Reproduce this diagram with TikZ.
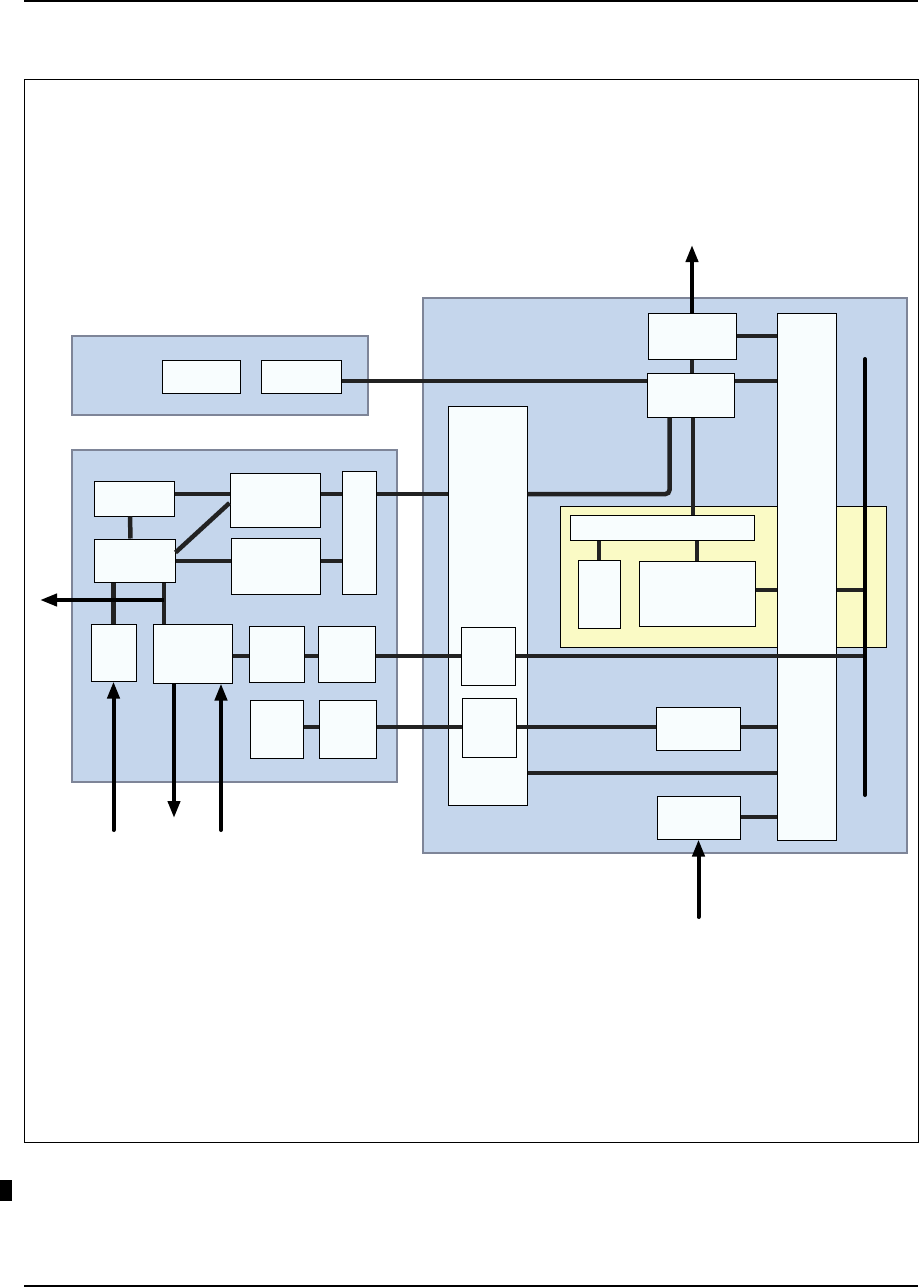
\documentclass[tikz,border=0pt]{standalone}
\usepackage{tikz}
\usetikzlibrary{arrows.meta, positioning}
\definecolor{panelblue}{HTML}{C5D6EC}
\definecolor{panelgray}{HTML}{7E8598}
\definecolor{paneyellow}{HTML}{FAFAC5}
\definecolor{boxwhite}{HTML}{F8FDFE}
\definecolor{linkgray}{HTML}{222222}

\begin{document}
\begin{tikzpicture}[
    x=1pt, y=-1pt,
    boxsize/.style 2 args={minimum width=#1pt, minimum height=#2pt},
    panel/.style={rectangle, draw=panelgray, fill=panelblue, line width=2.5pt, inner sep=0pt},
    subpanel/.style={rectangle, draw=black, fill=paneyellow, line width=0.8pt, inner sep=0pt},
    block/.style={rectangle, draw=black, fill=boxwhite, line width=1pt, inner sep=0pt},
    link/.style={line width=4.5pt, linkgray},
    arrow/.style={-{Triangle[length=17pt,width=12pt]}, line width=4pt, black},
]
    \useasboundingbox (0,0) rectangle (920,1288);

    % page rules and frame
    \draw[line width=1.5pt] (24,1) -- (918,1);
    \draw[line width=1pt] (24,79) rectangle (918,1142);
    \fill (0,1180) rectangle (12,1201);
    \draw[line width=1.2pt] (24,1286) -- (918,1286);

    % panels
    \node[panel, boxsize={296}{79}] (pA) at (220,375.5) {};
    \node[panel, boxsize={325}{332}] (pB) at (234.5,616) {};
    \node[panel, boxsize={484}{555}] (pC) at (665,575.5) {};
    \node[subpanel, boxsize={326}{141}] (pY) at (723,576.5) {};

    % panel A
    \node[block, boxsize={78}{33}] (a1) at (201,376.5) {};
    \node[block, boxsize={80}{33}, right=20pt of a1] (a2) {};

    % panel B
    \node[block, boxsize={80}{35}] (b1) at (134,498.5) {};
    \node[block, boxsize={81}{43}] (b2) at (134.5,560.5) {};
    \node[block, boxsize={90}{54}] (b3) at (275,500) {};
    \node[block, boxsize={89}{56}] (b4) at (275.5,566) {};
    \node[block, boxsize={34}{123}] (b5) at (359,532.5) {};
    \node[block, boxsize={45}{57}] (b6) at (113.5,652.5) {};
    \node[block, boxsize={79}{59}] (b7) at (192.5,653.5) {};
    \node[block, boxsize={55}{56}] (b8) at (276.5,654) {};
    \node[block, boxsize={57}{56}] (b9) at (346.5,654) {};
    \node[block, boxsize={53}{58}] (b10) at (276.5,729) {};
    \node[block, boxsize={57}{58}] (b11) at (347.5,729) {};

    % panel C
    \node[block, boxsize={88}{46}] (c1) at (692,336) {};
    \node[block, boxsize={87}{44}] (c2) at (690.5,395) {};
    \node[block, boxsize={59}{527}] (c3) at (806.5,576.5) {};
    \node[block, boxsize={79}{399}] (c4) at (487.5,605.5) {};
    \node[block, boxsize={54}{58}] (c5) at (488,656) {};
    \node[block, boxsize={54}{59}] (c6) at (489,727.5) {};
    \node[block, boxsize={84}{43}] (c7) at (698,728.5) {};
    \node[block, boxsize={83}{43}] (c8) at (698.5,817.5) {};
    \node[block, boxsize={184}{25}] (y1) at (662,527.5) {};
    \node[block, boxsize={42}{68}] (y2) at (599,594) {};
    \node[block, boxsize={116}{65}] (y3) at (697,593.5) {};

    % levels and free ends
    \coordinate (yA) at (0,494);
    \coordinate (yB) at (0,381);
    \coordinate (yD) at (0,561);
    \coordinate (yE) at (0,656);
    \coordinate (yF) at (0,727);
    \coordinate (yG) at (0,590);
    \coordinate (yH) at (0,773);
    \coordinate (yI) at (0,817);
    \coordinate (yJ) at (0,600);
    \coordinate (xK) at (164,0);
    \coordinate (xM) at (693,0);
    \coordinate (busTop) at (865,359);
    \coordinate (busBot) at (865,795);
    \coordinate (outT) at (692,245);
    \coordinate (outL) at (40,600);
    \coordinate (outL2) at (174,818);
    \coordinate (inL1) at (113.5,830);
    \coordinate (inL2) at (221,830);
    \coordinate (inC) at (698.5,917);

    % links
    \draw[link] (b1.east |- yA) -- (b3.west |- yA);
    \draw[link] ([xshift=-4pt]b1.south) -- ([xshift=-4pt]b2.north);
    \draw[link] ([yshift=8pt]b2.east) -- ([yshift=-3pt]b3.west);
    \draw[link] (b2.east |- yD) -- (b4.west |- yD);
    \draw[link] (b3.east |- yA) -- (b5.west |- yA);
    \draw[link] (b4.east |- yD) -- (b5.west |- yD);
    \draw[link] (b5.east |- yA) -- (c4.west |- yA);
    \draw[link, rounded corners=4pt] (c4.east |- yA) -| ([xshift=-21pt]c2.south);
    \draw[link] (c2.south -| xM) -- (y1.north -| xM);
    \draw[link] (c1.south) -- (c1.south |- c2.north);
    \draw[link] (c1.east) -- (c1.east -| c3.west);
    \draw[link] (a2.east |- yB) -- (c2.west |- yB);
    \draw[link] (c2.east |- yB) -- (c3.west |- yB);
    \draw[link] (b6.north) -- (b6.north |- b2.south);
    \draw[link] (b7.north -| xK) -- (b2.south -| xK);
    \draw[link] (b7.east |- yE) -- (b8.west |- yE);
    \draw[link] (b8.east |- yE) -- (b9.west |- yE);
    \draw[link] (b9.east |- yE) -- (c5.west |- yE);
    \draw[link] (c5.east |- yE) -- (busTop |- yE);
    \draw[link] (b10.east |- yF) -- (b11.west |- yF);
    \draw[link] (b11.east |- yF) -- (c6.west |- yF);
    \draw[link] (c6.east |- yF) -- (c7.west |- yF);
    \draw[link] (c7.east |- yF) -- (c3.west |- yF);
    \draw[link] (c4.east |- yH) -- (c3.west |- yH);
    \draw[link] (c8.east |- yI) -- (c3.west |- yI);
    \draw[link] (y3.east |- yG) -- (c3.west |- yG);
    \draw[link] (c3.east |- yG) -- (busTop |- yG);
    \draw[link] (y2.north) -- (y2.north |- y1.south);
    \draw[link] (y3.north) -- (y3.north |- y1.south);
    \draw[link, black, line width=4pt, line cap=round] (busTop) -- (busBot);

    % arrows
    \draw[arrow] (c1.north) -- (outT);
    \draw[arrow] (xK |- yJ) -- (outL);
    \draw[arrow, line cap=round] (inL1) -- (b6.south);
    \draw[arrow] (b7.south -| outL2) -- (outL2);
    \draw[arrow, line cap=round] (inL2) -- (b7.south -| inL2);
    \draw[arrow, line cap=round] (inC) -- (c8.south);
\end{tikzpicture}
\end{document}
